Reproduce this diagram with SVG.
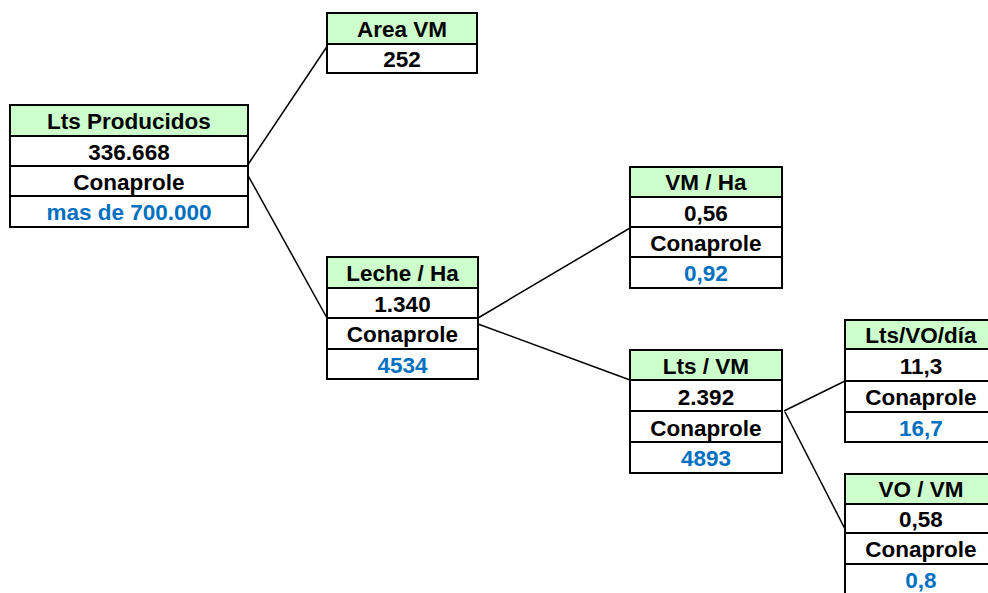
<svg xmlns="http://www.w3.org/2000/svg" width="988" height="593" viewBox="0 0 988 593">
<style>
.box{fill:#ffffff;stroke:none}
.hd{fill:#ccffcc;stroke:none}
.bd{fill:none;stroke:#000;stroke-width:2}
.sep{stroke:#000;stroke-width:2}
text{font-family:"Liberation Sans",Arial,sans-serif;font-weight:bold;font-size:22.5px;text-anchor:middle;fill:#000}
.blue{fill:#0070c0}
.con{stroke:#000;stroke-width:1.5;fill:none}
</style>
<rect width="988" height="593" fill="#fff"/>
<g id="connectors">
<line class="con" x1="247" y1="166" x2="328" y2="45"/>
<line class="con" x1="245" y1="170" x2="327" y2="318"/>
<line class="con" x1="478" y1="318" x2="630" y2="228"/>
<line class="con" x1="478" y1="324" x2="630" y2="380"/>
<line class="con" x1="784" y1="411" x2="845" y2="381"/>
<line class="con" x1="785" y1="412" x2="845" y2="529"/>
</g>
<g id="lts-producidos">
<rect class="box" x="10" y="105" width="238" height="122"/>
<rect class="hd" x="10" y="105" width="238" height="31"/>
<line class="sep" x1="10" y1="136" x2="248" y2="136"/>
<line class="sep" x1="10" y1="166" x2="248" y2="166"/>
<line class="sep" x1="10" y1="196" x2="248" y2="196"/>
<rect class="bd" x="10" y="105" width="238" height="122"/>
<text x="129" y="129">Lts Producidos</text>
<text x="129" y="160">336.668</text>
<text x="129" y="190">Conaprole</text>
<text class="blue" x="129" y="220">mas de 700.000</text>
</g>
<g id="area-vm">
<rect class="box" x="327" y="13" width="150" height="60"/>
<rect class="hd" x="327" y="13" width="150" height="31"/>
<line class="sep" x1="327" y1="44" x2="477" y2="44"/>
<rect class="bd" x="327" y="13" width="150" height="60"/>
<text x="402" y="37">Area VM</text>
<text x="402" y="67">252</text>
</g>
<g id="leche-ha">
<rect class="box" x="327" y="257" width="151" height="122"/>
<rect class="hd" x="327" y="257" width="151" height="31"/>
<line class="sep" x1="327" y1="288" x2="478" y2="288"/>
<line class="sep" x1="327" y1="318" x2="478" y2="318"/>
<line class="sep" x1="327" y1="349" x2="478" y2="349"/>
<rect class="bd" x="327" y="257" width="151" height="122"/>
<text x="402.5" y="281">Leche / Ha</text>
<text x="402.5" y="312">1.340</text>
<text x="402.5" y="342">Conaprole</text>
<text class="blue" x="402.5" y="373">4534</text>
</g>
<g id="vm-ha">
<rect class="box" x="630" y="167" width="152" height="121"/>
<rect class="hd" x="630" y="167" width="152" height="30"/>
<line class="sep" x1="630" y1="197" x2="782" y2="197"/>
<line class="sep" x1="630" y1="227" x2="782" y2="227"/>
<line class="sep" x1="630" y1="257" x2="782" y2="257"/>
<rect class="bd" x="630" y="167" width="152" height="121"/>
<text x="706" y="190">VM / Ha</text>
<text x="706" y="221">0,56</text>
<text x="706" y="251">Conaprole</text>
<text class="blue" x="706" y="281">0,92</text>
</g>
<g id="lts-vm">
<rect class="box" x="630" y="350" width="152" height="123"/>
<rect class="hd" x="630" y="350" width="152" height="30"/>
<line class="sep" x1="630" y1="380" x2="782" y2="380"/>
<line class="sep" x1="630" y1="411" x2="782" y2="411"/>
<line class="sep" x1="630" y1="442" x2="782" y2="442"/>
<rect class="bd" x="630" y="350" width="152" height="123"/>
<text x="706" y="374">Lts / VM</text>
<text x="706" y="405">2.392</text>
<text x="706" y="436">Conaprole</text>
<text class="blue" x="706" y="466">4893</text>
</g>
<g id="lts-vo-dia">
<rect class="box" x="845" y="320" width="152" height="122"/>
<rect class="hd" x="845" y="320" width="152" height="29"/>
<line class="sep" x1="845" y1="349" x2="997" y2="349"/>
<line class="sep" x1="845" y1="381" x2="997" y2="381"/>
<line class="sep" x1="845" y1="412" x2="997" y2="412"/>
<rect class="bd" x="845" y="320" width="152" height="122"/>
<text x="921" y="343">Lts/VO/día</text>
<text x="921" y="374">11,3</text>
<text x="921" y="405">Conaprole</text>
<text class="blue" x="921" y="436">16,7</text>
</g>
<g id="vo-vm">
<rect class="box" x="845" y="474" width="152" height="122"/>
<rect class="hd" x="845" y="474" width="152" height="30"/>
<line class="sep" x1="845" y1="504" x2="997" y2="504"/>
<line class="sep" x1="845" y1="533" x2="997" y2="533"/>
<line class="sep" x1="845" y1="564" x2="997" y2="564"/>
<rect class="bd" x="845" y="474" width="152" height="122"/>
<text x="921" y="497">VO / VM</text>
<text x="921" y="527">0,58</text>
<text x="921" y="557">Conaprole</text>
<text class="blue" x="921" y="588">0,8</text>
</g>
</svg>
